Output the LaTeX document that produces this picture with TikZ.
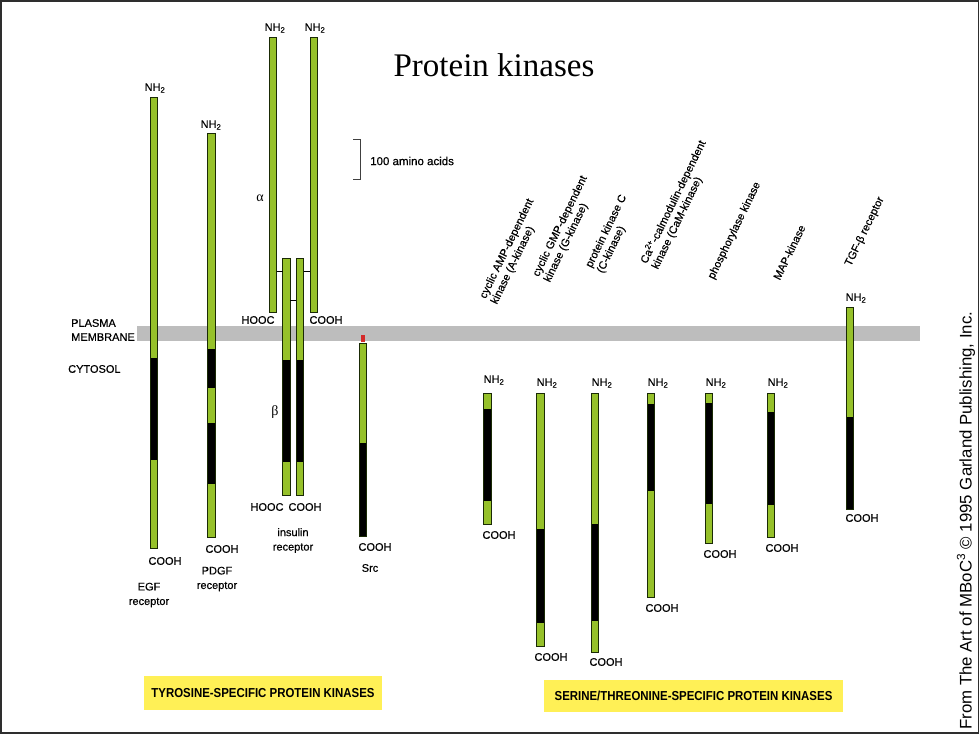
\documentclass[tikz,border=0pt]{standalone}
\usepackage{fontspec}
\setmainfont{Liberation Sans}[FakeBold=0.5]
\newfontfamily\serifrm{Liberation Serif}
\newfontfamily\condf[FakeStretch=0.88]{Liberation Sans}
\newfontfamily\plainf{Liberation Sans}
\definecolor{kgreen}{HTML}{96C12A}
\definecolor{memgray}{HTML}{BDBDBD}
\definecolor{ylw}{HTML}{FFF056}
\definecolor{framec}{HTML}{2E2E2E}
\definecolor{redm}{HTML}{D42A2A}
\definecolor{kedgec}{HTML}{1A2A05}
\newcommand\kbar[4]{%
  \pgfmathsetmacro\kh{#4-#3}%
  \pgfmathsetmacro\kc{(#4+#3)/2}%
  \node[kbarbox, minimum height=\kh pt] (#1) at ({#2+3.75},\kc) {};%
}
\newcommand\kdom[3]{\fill[black] (#1.west |- 0,#2) rectangle (#1.east |- 0,#3);}
\newcommand\kline[1]{\draw[kedge] (#1.north west) rectangle (#1.south east);}
\begin{document}
\begin{tikzpicture}[x=1pt,y=-1pt,
  kbarbox/.style={rectangle, fill=kgreen, draw=kedgec, line width=0.8pt, minimum width=7.5pt, inner sep=0pt, outer sep=0pt},
  kedge/.style={draw=kedgec, line width=0.8pt},
  lab/.style={inner sep=0pt, font=\fontsize{11}{14.5}\selectfont, align=center},
  rlab/.style={inner sep=0pt, rotate=64, anchor=south west, align=left, font=\fontsize{11}{12.5}\selectfont},
  ybox/.style={fill=ylw, inner sep=0pt, font=\condf\bfseries\fontsize{13}{15}\selectfont},
  link/.style={draw=black, line width=1pt}]
\useasboundingbox (0,0) rectangle (980,735);
\draw[framec, line width=1.6pt] (1,1) rectangle (978.5,733);
% membrane
\fill[memgray] (137,326) rectangle (920,341);
% title
\node[anchor=base, inner sep=0pt, font=\serifrm\fontsize{33}{36}\selectfont] (title) at (494,77) {Protein kinases};
% scale bar
\draw[line width=0.9pt, black!75] (353,139) -- (360,139) -- (360,179) -- (353,179);
\node[anchor=west, inner sep=0pt, font=\fontsize{11.5}{13}\selectfont] (scale) at (370,161) {100 amino acids};
% side labels
\node[anchor=west, inner sep=0pt, align=left, font=\fontsize{11}{14}\selectfont] (pm) at (71,330) {PLASMA\\MEMBRANE};
\node[anchor=west, inner sep=0pt, font=\fontsize{11}{14}\selectfont] (cyt) at (68,369) {CYTOSOL};
% ---------- tyrosine kinases ----------
\kbar{egf}{150}{97}{548}\kdom{egf}{358}{460}\kline{egf}
\kbar{pdgf}{207.5}{133}{537}\kdom{pdgf}{349}{388}\kdom{pdgf}{423}{484}\kline{pdgf}
\kbar{alphaL}{269}{37}{312}
\kbar{alphaR}{310}{37}{312}
\kbar{betaL}{282.5}{258}{495}\kdom{betaL}{360}{462}\kline{betaL}
\kbar{betaR}{296}{258}{495}\kdom{betaR}{360}{462}\kline{betaR}
\draw[link] (alphaL.east |- 0,272) -- (betaL.west |- 0,272);
\draw[link] (betaR.east |- 0,272) -- (alphaR.west |- 0,272);
\draw[link] (betaL.east |- 0,301) -- (betaR.west |- 0,301);
\kbar{src}{359}{343}{536}\kdom{src}{443}{536}\kline{src}
\fill[redm] (361,335) rectangle (364.5,342);
% ---------- serine/threonine kinases ----------
\kbar{akin}{483.5}{393}{524}\kdom{akin}{409}{501}\kline{akin}
\kbar{gkin}{536.5}{393}{646}\kdom{gkin}{529}{623}\kline{gkin}
\kbar{ckin}{591}{393}{652}\kdom{ckin}{524}{621}\kline{ckin}
\kbar{camk}{647}{393}{597}\kdom{camk}{404}{491}\kline{camk}
\kbar{phk}{705}{393}{543}\kdom{phk}{403}{504}\kline{phk}
\kbar{mapk}{767}{393}{537}\kdom{mapk}{412}{505}\kline{mapk}
\kbar{tgf}{846}{307}{509}\kdom{tgf}{417}{509}\kline{tgf}
% NH2 labels
\node[lab] (egfN) at (155,88) {NH\textsubscript{2}};
\node[lab] (pdgfN) at (211,125) {NH\textsubscript{2}};
\node[lab] (aLN) at (275,28) {NH\textsubscript{2}};
\node[lab] (aRN) at (315,28) {NH\textsubscript{2}};
\node[lab] (akN) at (494,380) {NH\textsubscript{2}};
\node[lab] (gkN) at (547,383) {NH\textsubscript{2}};
\node[lab] (ckN) at (602,383) {NH\textsubscript{2}};
\node[lab] (camN) at (658,383) {NH\textsubscript{2}};
\node[lab] (phN) at (716,383) {NH\textsubscript{2}};
\node[lab] (mapN) at (778,383) {NH\textsubscript{2}};
\node[lab] (tgfN) at (856,298) {NH\textsubscript{2}};
% COOH labels
\node[lab] (egfC) at (165,561) {COOH};
\node[lab] (pdgfC) at (222,549) {COOH};
\node[lab] (aLC) at (258,320) {HOOC};
\node[lab] (aRC) at (326,320) {COOH};
\node[lab] (bLC) at (267,507) {HOOC};
\node[lab] (bRC) at (305,507) {COOH};
\node[lab] (srcC) at (375,547) {COOH};
\node[lab] (akC) at (499,535) {COOH};
\node[lab] (gkC) at (551,657) {COOH};
\node[lab] (ckC) at (606,662) {COOH};
\node[lab] (camC) at (662,608) {COOH};
\node[lab] (phC) at (720,554) {COOH};
\node[lab] (mapC) at (782,548) {COOH};
\node[lab] (tgfC) at (862,518) {COOH};
% names
\node[lab] (egfL) at (149,595) {EGF\\receptor};
\node[lab] (pdgfL) at (217,579) {PDGF\\receptor};
\node[lab] (insL) at (293,540.5) {insulin\\receptor};
\node[lab] (srcL) at (370,568) {Src};
\node[inner sep=0pt, font=\serifrm\fontsize{14}{15}\selectfont] (alab) at (260,198) {α};
\node[inner sep=0pt, font=\serifrm\fontsize{14}{15}\selectfont] (blab) at (275,412) {β};
% rotated names
\node[rlab] (akL) at (499,306) {cyclic AMP-dependent\\kinase (A-kinase)};
\node[rlab] (gkL) at (552,284) {cyclic GMP-dependent\\kinase (G-kinase)};
\node[rlab] (ckL) at (605,275) {protein kinase C\\(C-kinase)};
\node[rlab] (camL) at (660,271) {Ca\textsuperscript{2+}-calmodulin-dependent\\kinase (CaM-kinase)};
\node[rlab] (phL) at (716,281) {phosphorylase kinase};
\node[rlab] (mapL) at (780,281) {MAP-kinase};
\node[rlab] (tgfL) at (853,268) {TGF-β receptor};
% class boxes
\node[ybox, minimum width=238pt, minimum height=34pt] (tyr) at (263,693) {TYROSINE-SPECIFIC PROTEIN KINASES};
\node[ybox, minimum width=299pt, minimum height=32pt] (ser) at (693.5,696) {SERINE/THREONINE-SPECIFIC PROTEIN KINASES};
% copyright
\node[rotate=90, anchor=west, inner sep=0pt, font=\plainf\fontsize{16.8}{18}\selectfont] (copy) at (966,730) {From The Art of MBoC\textsuperscript{3} © 1995 Garland Publishing, Inc.};
\end{tikzpicture}
\end{document}
